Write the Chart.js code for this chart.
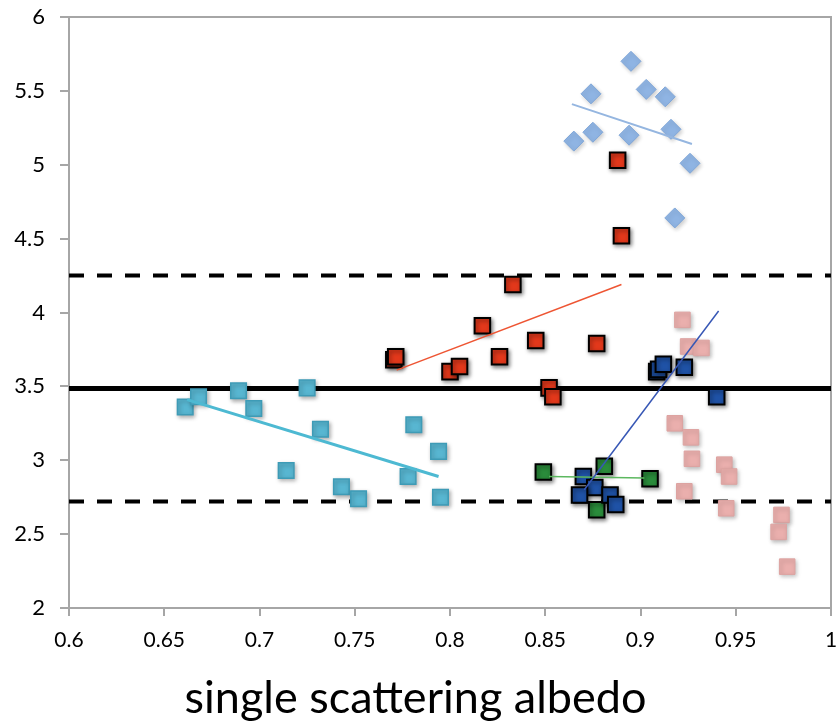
<!DOCTYPE html>
<html>
<head>
<meta charset="utf-8">
<script src="https://cdn.jsdelivr.net/npm/chart.js@4.4.1/dist/chart.umd.min.js"></script>
<style>
  html, body { margin: 0; padding: 0; background: #ffffff; }
  #wrap { width: 839px; height: 725px; }
</style>
</head>
<body>
<div id="wrap"><canvas id="c" width="839" height="725"></canvas></div>
<script>
// ---- axis ticks ----
const xTickValues = [0.6, 0.65, 0.7, 0.75, 0.8, 0.85, 0.9, 0.95, 1];
const xTickLabels = ['0.6', '0.65', '0.7', '0.75', '0.8', '0.85', '0.9', '0.95', '1'];
const yTickValues = [2, 2.5, 3, 3.5, 4, 4.5, 5, 5.5, 6];
const yTickLabels = ['2', '2.5', '3', '3.5', '4', '4.5', '5', '5.5', '6'];
const xTitle = 'single scattering albedo';

// ---- series (light blue diamonds) ----
const diamondX = [0.895, 0.874, 0.903, 0.913, 0.865, 0.875, 0.894, 0.916, 0.926, 0.918];
const diamondY = [5.70, 5.48, 5.51, 5.46, 5.16, 5.22, 5.20, 5.24, 5.01, 4.64];

// ---- red squares ----
const redX = [0.888, 0.890, 0.833, 0.817, 0.845, 0.877, 0.7705, 0.7715, 0.826, 0.800, 0.805, 0.852, 0.854];
const redY = [5.03, 4.52, 4.19, 3.91, 3.81, 3.79, 3.68, 3.70, 3.70, 3.60, 3.635, 3.49, 3.43];

// ---- cyan squares ----
const cyanX = [0.661, 0.668, 0.689, 0.697, 0.714, 0.725, 0.732, 0.743, 0.752, 0.781, 0.794, 0.778, 0.795];
const cyanY = [3.36, 3.43, 3.47, 3.35, 2.93, 3.49, 3.21, 2.82, 2.74, 3.24, 3.06, 2.89, 2.75];

// ---- dark blue squares ----
const blueX = [0.9085, 0.9095, 0.912, 0.923, 0.940, 0.870, 0.876, 0.868, 0.884, 0.887];
const blueY = [3.60, 3.615, 3.65, 3.63, 3.43, 2.89, 2.815, 2.765, 2.765, 2.70];

// ---- green squares ----
const greenX = [0.849, 0.881, 0.905, 0.877];
const greenY = [2.92, 2.96, 2.875, 2.665];

// ---- pink squares ----
const pinkX = [0.922, 0.925, 0.932, 0.918, 0.9265, 0.927, 0.944, 0.9465, 0.923, 0.945, 0.974, 0.9725, 0.977];
const pinkY = [3.95, 3.77, 3.76, 3.25, 3.155, 3.01, 2.97, 2.89, 2.79, 2.675, 2.63, 2.515, 2.28];

// ---- trend lines (endpoints) ----
const diamondTrendX = [0.864, 0.927], diamondTrendY = [5.41, 5.14];
const redTrendX = [0.772, 0.890], redTrendY = [3.61, 4.19];
const cyanTrendX = [0.662, 0.794], cyanTrendY = [3.41, 2.89];
const blueTrendX = [0.8705, 0.941], blueTrendY = [2.80, 4.01];
const greenTrendX = [0.852, 0.902], greenTrendY = [2.89, 2.88];

// ---- horizontal reference levels ----
const refRangeX = [0.6, 1.0];
const upperLevel = 4.25, meanLevel = 3.485, lowerLevel = 2.72;

const pts = (xs, ys) => xs.map((x, i) => ({ x: x, y: ys[i] }));
const hline = (v) => refRangeX.map(x => ({ x: x, y: v }));

function scatterSet(data, style, radius, fill, border, bw, shadow) {
  return {
    type: 'scatter', data: data, pointStyle: style, pointRadius: radius, pointHoverRadius: radius,
    backgroundColor: fill, borderColor: border, borderWidth: bw, showLine: false,
    order: 1, shadow: shadow
  };
}
function lineSet(data, color, width, dash, order) {
  return {
    type: 'line', data: data, borderColor: color, borderWidth: width, borderDash: dash || [],
    pointRadius: 0, pointHoverRadius: 0, fill: false, tension: 0, order: order
  };
}

const shadowPlugin = {
  id: 'shadow',
  beforeDatasetDraw(chart, args) {
    const ds = chart.data.datasets[args.index];
    if (ds.shadow) {
      const ctx = chart.ctx;
      ctx.save();
      ctx.shadowColor = ds.shadow;
      ctx.shadowBlur = 4;
      ctx.shadowOffsetX = 1.5;
      ctx.shadowOffsetY = 2;
    }
  },
  afterDatasetDraw(chart, args) {
    const ds = chart.data.datasets[args.index];
    if (ds.shadow) chart.ctx.restore();
  }
};

const frame = {
  id: 'frame',
  beforeDatasetsDraw(chart) {
    const { ctx, chartArea: a } = chart;
    ctx.save();
    ctx.strokeStyle = '#A6A6A6';
    ctx.lineWidth = 2;
    ctx.beginPath();
    ctx.moveTo(a.left, a.top);
    ctx.lineTo(a.right, a.top);
    ctx.lineTo(a.right, a.bottom);
    ctx.stroke();
    ctx.restore();
  }
};

const FONT = 'Lato, "Open Sans", "DejaVu Sans", sans-serif';

new Chart(document.getElementById('c'), {
  type: 'scatter',
  data: {
    datasets: [
      lineSet(hline(upperLevel), '#000000', 4, [15, 13], 2),
      lineSet(hline(lowerLevel), '#000000', 4, [15, 13], 2),
      lineSet(hline(meanLevel), '#000000', 5, [], 2),
      scatterSet(pts(cyanX, cyanY), 'rect', 11, '#58B6D1', '#3E9BB6', 1.5, 'rgba(0,0,0,0.3)'),
      scatterSet(pts(diamondX, diamondY), 'rectRot', 10, '#8FB4E3', '#7FA6D8', 1, 'rgba(0,0,0,0.2)'),
      scatterSet(pts(pinkX, pinkY), 'rect', 11, '#EAAFAD', '#DDA3A1', 1, 'rgba(0,0,0,0.25)'),
      scatterSet(pts(redX, redY), 'rect', 11, '#E2381B', '#000000', 2, 'rgba(0,0,0,0.45)'),
      scatterSet(pts(blueX, blueY), 'rect', 11, '#1F52A6', '#000000', 2, 'rgba(0,0,0,0.45)'),
      scatterSet(pts(greenX, greenY), 'rect', 11, '#2A8C3B', '#000000', 2, 'rgba(0,0,0,0.45)'),
      lineSet(pts(diamondTrendX, diamondTrendY), '#95B6E0', 2, [], 0),
      lineSet(pts(redTrendX, redTrendY), '#EE5533', 1.5, [], 0),
      lineSet(pts(cyanTrendX, cyanTrendY), '#4DB9D2', 3, [], 0),
      lineSet(pts(blueTrendX, blueTrendY), '#3757B5', 1.5, [], 0),
      lineSet(pts(greenTrendX, greenTrendY), '#5CB85F', 1.5, [], 0)
    ]
  },
  options: {
    responsive: false,
    animation: false,
    layout: { autoPadding: false, padding: { top: 17, right: 8, left: 0, bottom: 0 } },
    plugins: {
      legend: { display: false },
      tooltip: { enabled: false },
      title: {
        display: true, position: 'bottom', text: xTitle, color: '#000000',
        font: { family: FONT, size: 45, weight: 'normal' }, padding: { top: 0, bottom: 0 }
      }
    },
    scales: {
      x: {
        type: 'linear', min: 0.6, max: 1.0,
        afterBuildTicks(s) { s.ticks = xTickValues.map(v => ({ value: v })); },
        afterFit(s) { s.height = 63; s.paddingLeft = 0; s.paddingRight = 0; },
        ticks: {
          callback: (v) => { const i = xTickValues.findIndex(t => Math.abs(t - v) < 1e-9); return i >= 0 ? xTickLabels[i] : ''; },
          font: { family: FONT, size: 21 }, color: '#000000', padding: 12, maxRotation: 0, autoSkip: false
        },
        grid: { drawOnChartArea: false, drawTicks: true, tickLength: 8, color: '#A6A6A6', lineWidth: 2 },
        border: { display: true, color: '#A6A6A6', width: 2 }
      },
      y: {
        type: 'linear', min: 2, max: 6,
        afterBuildTicks(s) { s.ticks = yTickValues.map(v => ({ value: v })); },
        afterFit(s) { s.width = 69; s.paddingTop = 0; s.paddingBottom = 0; },
        ticks: {
          callback: (v) => { const i = yTickValues.findIndex(t => Math.abs(t - v) < 1e-9); return i >= 0 ? yTickLabels[i] : ''; },
          font: { family: FONT, size: 22 }, color: '#000000', padding: 15
        },
        grid: { drawOnChartArea: false, drawTicks: true, tickLength: 9, color: '#A6A6A6', lineWidth: 2 },
        border: { display: true, color: '#A6A6A6', width: 2 }
      }
    }
  },
  plugins: [shadowPlugin, frame]
});
</script>
</body>
</html>
